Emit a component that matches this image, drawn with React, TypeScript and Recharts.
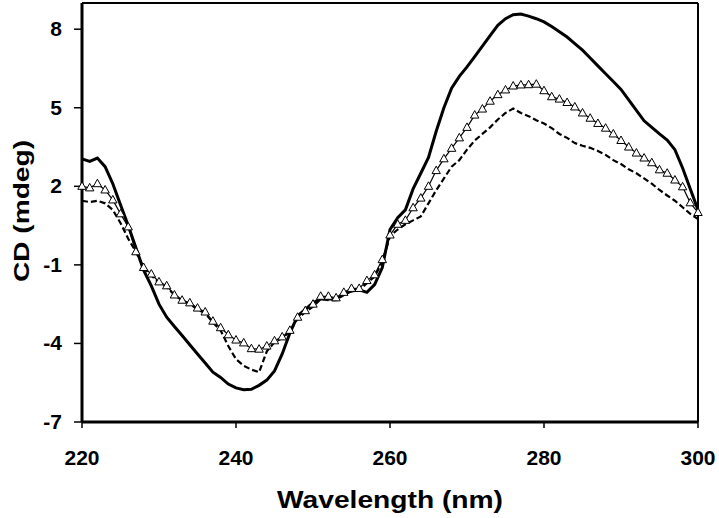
import { Line, LineChart, ReferenceLine, XAxis, YAxis } from "recharts";

// wavelength grid, 1 nm steps, 220..300
const wavelengths: number[] = [
  220, 221, 222, 223, 224, 225, 226, 227, 228, 229,
  230, 231, 232, 233, 234, 235, 236, 237, 238, 239,
  240, 241, 242, 243, 244, 245, 246, 247, 248, 249,
  250, 251, 252, 253, 254, 255, 256, 257, 258, 259,
  260, 261, 262, 263, 264, 265, 266, 267, 268, 269,
  270, 271, 272, 273, 274, 275, 276, 277, 278, 279,
  280, 281, 282, 283, 284, 285, 286, 287, 288, 289,
  290, 291, 292, 293, 294, 295, 296, 297, 298, 299,
  300,
];

// thick solid trace
const solid: number[] = [
  3.05, 2.95, 3.08, 2.75, 2.1, 1.3, 0.5, -0.35, -1.2, -1.8,
  -2.5, -3.0, -3.35, -3.7, -4.05, -4.4, -4.75, -5.1, -5.3, -5.55,
  -5.7, -5.77, -5.75, -5.6, -5.4, -5.05, -4.4, -3.6, -2.95, -2.7,
  -2.45, -2.3, -2.3, -2.3, -2.1, -2.0, -1.95, -2.05, -1.75, -1.1,
  0.35, 0.8, 1.1, 1.9, 2.5, 3.1, 4.1, 5.0, 5.75, 6.2,
  6.56, 6.95, 7.35, 7.75, 8.15, 8.4, 8.55, 8.58, 8.5, 8.4,
  8.28, 8.1, 7.9, 7.7, 7.45, 7.2, 6.9, 6.6, 6.3, 6.0,
  5.7, 5.3, 4.9, 4.5, 4.25, 4.0, 3.77, 3.4, 2.7, 1.9,
  1.1,
];

// thin trace with open triangles
const triangles: number[] = [
  2.0, 1.94, 2.1, 1.86, 1.48, 0.95, 0.45, -0.5, -1.1, -1.35,
  -1.65, -1.8, -2.15, -2.35, -2.45, -2.65, -2.8, -3.15, -3.4, -3.67,
  -3.87, -3.98, -4.2, -4.22, -4.1, -3.9, -3.75, -3.5, -3.0, -2.75,
  -2.5, -2.2, -2.2, -2.26, -2.05, -1.9, -1.9, -1.6, -1.38, -0.8,
  0.14, 0.55, 0.7, 1.18, 1.55, 2.0, 2.6, 3.05, 3.45, 3.85,
  4.25, 4.72, 4.95, 5.25, 5.5, 5.68, 5.83, 5.87, 5.88, 5.9,
  5.65, 5.42, 5.33, 5.2, 5.03, 4.8, 4.6, 4.4, 4.22, 4.0,
  3.75, 3.5, 3.27, 3.08, 2.9, 2.63, 2.5, 2.24, 1.98, 1.37,
  1.0,
];

// dashed trace
const dashed: number[] = [
  1.45, 1.4, 1.45, 1.35, 1.1, 0.6, 0.0, -0.5, -1.1, -1.4,
  -1.7, -1.85, -2.15, -2.35, -2.5, -2.7, -2.85, -3.2, -3.5, -4.1,
  -4.6, -4.85, -5.0, -5.1, -4.3, -3.95, -3.8, -3.55, -3.05, -2.8,
  -2.6, -2.3, -2.35, -2.35, -2.15, -2.0, -1.95, -1.7, -1.45, -0.9,
  0.1, 0.35, 0.55, 0.7, 0.85, 1.35, 1.85, 2.3, 2.75, 3.0,
  3.4, 3.75, 4.0, 4.25, 4.55, 4.8, 4.97, 4.8, 4.68, 4.52,
  4.4, 4.22, 4.0, 3.85, 3.65, 3.55, 3.47, 3.35, 3.2, 3.0,
  2.85, 2.65, 2.5, 2.3, 2.1, 1.86, 1.65, 1.45, 1.2, 0.95,
  0.75,
];

const xTicks = [220, 240, 260, 280, 300];
const yTicks = [-7, -4, -1, 2, 5, 8];

const data = wavelengths.map((w, i) => ({
  w,
  solid: solid[i],
  tri: triangles[i],
  dash: dashed[i],
}));

const FONT = "'Liberation Sans', Arial, sans-serif";

function YTick({ y, payload }: any) {
  return (
    <text x={62} y={y} dy={7} textAnchor="end" fontFamily={FONT} fontWeight="bold" fontSize={21} fill="#000">
      {payload.value}
    </text>
  );
}

function XTick({ x, payload }: any) {
  return (
    <text x={x} y={465} textAnchor="middle" fontFamily={FONT} fontWeight="bold" fontSize={21} fill="#000">
      {payload.value}
    </text>
  );
}

function TriDot({ cx, cy }: any) {
  if (cx == null || cy == null) return null;
  const pts = `${cx},${cy - 4.5} ${cx + 4.2},${cy + 3} ${cx - 4.2},${cy + 3}`;
  return <polygon points={pts} fill="#fff" stroke="#000" strokeWidth={1} />;
}

export default function App() {
  return (
    <div style={{ position: "absolute", left: 0, top: 0, width: 719, height: 518, background: "#fff" }}>
      <LineChart width={719} height={518} data={data} margin={{ top: 3, right: 21, bottom: 0, left: 0 }}>
        <XAxis
          dataKey="w"
          type="number"
          domain={[220, 300]}
          ticks={xTicks}
          height={96}
          axisLine={{ stroke: "#000", strokeWidth: 3 }}
          tickLine={{ stroke: "#000", strokeWidth: 1.5 }}
          tickSize={6}
          tick={<XTick />}
          interval={0}
        />
        <YAxis
          type="number"
          domain={[-7, 9]}
          ticks={yTicks}
          width={82}
          axisLine={{ stroke: "#000", strokeWidth: 3 }}
          tickLine={{ stroke: "#000", strokeWidth: 1.5 }}
          tickSize={8}
          tick={<YTick />}
          interval={0}
        />
        <ReferenceLine y={9} stroke="#000" strokeWidth={2} />
        <ReferenceLine x={300} stroke="#000" strokeWidth={2} />
        <Line
          dataKey="solid"
          stroke="#000"
          strokeWidth={3}
          dot={false}
          type="linear"
          isAnimationActive={false}
        />
        <Line
          dataKey="dash"
          stroke="#000"
          strokeWidth={2.2}
          strokeDasharray="6 3"
          dot={false}
          type="linear"
          isAnimationActive={false}
        />
        <Line
          dataKey="tri"
          stroke="#000"
          strokeWidth={1.2}
          dot={<TriDot />}
          type="linear"
          isAnimationActive={false}
        />
        <text
          x={390}
          y={508}
          textAnchor="middle"
          fontFamily={FONT}
          fontWeight="bold"
          fontSize={23}
          fill="#000"
          textLength={226}
          lengthAdjust="spacingAndGlyphs"
        >
          Wavelength (nm)
        </text>
        <text
          x={0}
          y={0}
          transform="translate(29,211) rotate(-90)"
          textAnchor="middle"
          fontFamily={FONT}
          fontWeight="bold"
          fontSize={22}
          fill="#000"
          textLength={142}
          lengthAdjust="spacingAndGlyphs"
        >
          CD (mdeg)
        </text>
      </LineChart>
    </div>
  );
}
